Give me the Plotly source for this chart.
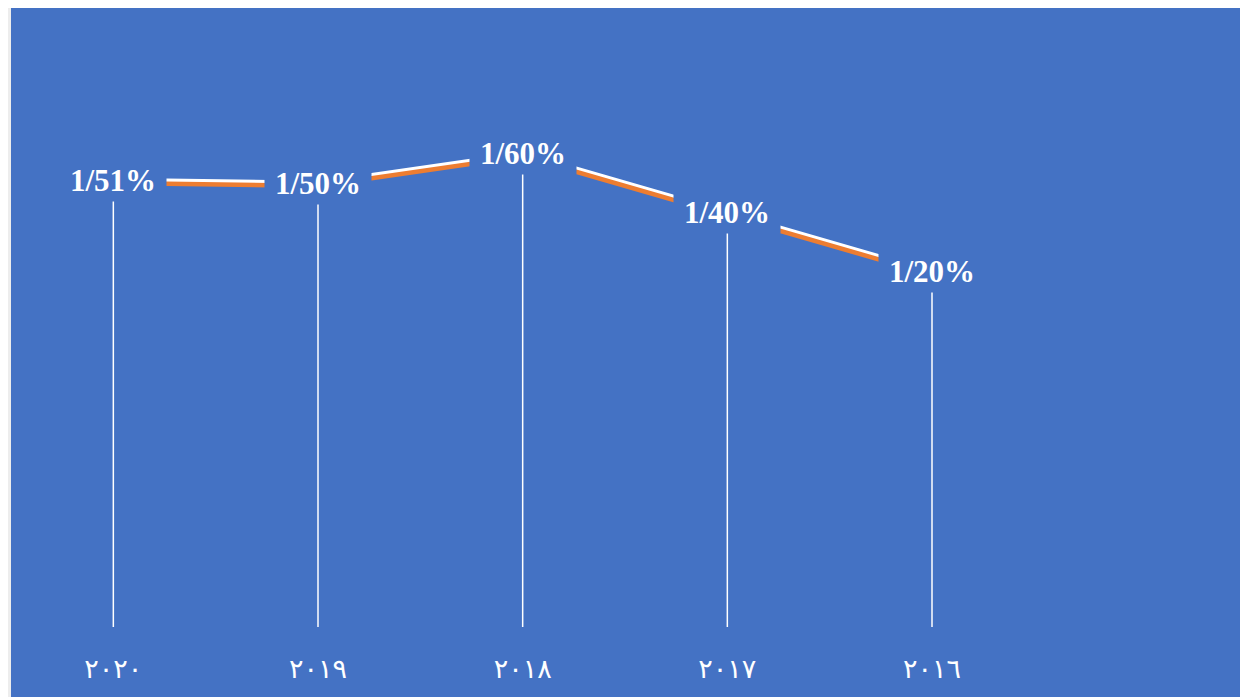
import plotly.graph_objects as go

# Data
years = ["٢٠٢٠", "٢٠١٩", "٢٠١٨", "٢٠١٧", "٢٠١٦"]
values = [1.51, 1.50, 1.60, 1.40, 1.20]
labels = ["1/51%", "1/50%", "1/60%", "1/40%", "1/20%"]
categories = years + [" "]  # empty sixth slot

BLUE = "#4472C4"
ORANGE = "#ED7D31"
W, H = 1248, 689
ML, MR, MT, MB = 3, 17, 27, 70
PH = H - MT - MB
PW = W - ML - MR
YMAX = 2.0
shadow = 3 / PH * YMAX

fig = go.Figure()

# drop lines
dx, dy = [], []
for c, v in zip(years, values):
    dx += [c, c, None]
    dy += [v, 0, None]
fig.add_trace(go.Scatter(x=dx, y=dy, mode="lines", line=dict(color="white", width=1.5),
                         hoverinfo="skip", showlegend=False))

# orange shadow line
fig.add_trace(go.Scatter(x=years, y=values, mode="lines", line=dict(color=ORANGE, width=4.5),
                         xaxis="x", yaxis="y2", showlegend=False))
# white line
fig.add_trace(go.Scatter(x=years, y=values, mode="lines", line=dict(color="white", width=4.5),
                         showlegend=False))

for c, v, t in zip(years, values, labels):
    fig.add_annotation(x=c, y=v, text="<b>" + t + "</b>", showarrow=False,
                       font=dict(family="Liberation Serif", size=31, color="white"),
                       bgcolor=BLUE, width=106, height=41, borderpad=0,
                       xanchor="center", yanchor="middle")

# frame strip on the left
fig.add_shape(type="rect", xref="paper", yref="paper",
              x0=-ML / PW, x1=0, y0=-MB / PH, y1=(PH + MT) / PH,
              fillcolor="#EDEDED", line_width=0, layer="above")

fig.update_layout(
    width=W, height=H,
    margin=dict(l=ML, r=MR, t=MT, b=MB),
    paper_bgcolor=BLUE, plot_bgcolor=BLUE,
    showlegend=False,
    xaxis=dict(type="category", categoryorder="array", categoryarray=categories,
               range=[-0.5, 5.5], showgrid=False, zeroline=False, showline=False,
               tickvals=years, ticks="", ticklabelstandoff=23,
               tickfont=dict(family="DejaVu Sans", size=27, color="white")),
    yaxis=dict(range=[0, YMAX], showgrid=False, zeroline=False, showline=False,
               showticklabels=False),
    yaxis2=dict(range=[shadow, YMAX + shadow], overlaying="y", showgrid=False,
                zeroline=False, showline=False, showticklabels=False),
)

fig.write_html("out.html")
